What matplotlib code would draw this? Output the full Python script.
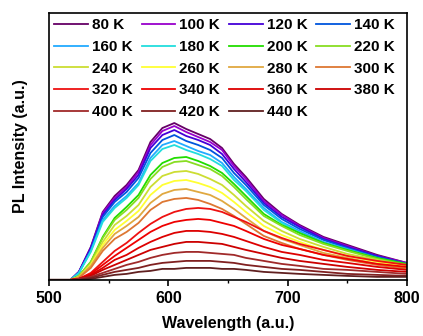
import numpy as np
import matplotlib
matplotlib.use('Agg')
import matplotlib.pyplot as plt

# wavelength grid (nm) and PL intensity (a.u.)
wavelength = [500, 518, 525, 535, 545, 555, 565, 575, 585, 595, 605, 615,
              625, 635, 645, 655, 665, 680, 695, 710, 730, 750, 775, 800]

pl_80 = [0, 0, 8, 33, 68, 84, 95, 110, 138, 152, 157, 151, 146, 141, 132, 116, 103, 81, 66, 55, 43, 35, 25, 17]
pl_100 = [0, 0, 8, 32, 67, 82, 93, 108, 135, 149, 154, 148, 143, 138, 130, 114, 101, 79, 65, 54, 42, 34, 24, 17]
pl_120 = [0, 0, 8, 32, 65, 80, 91, 105, 132, 145, 150, 144, 140, 135, 126, 111, 98, 77, 63, 53, 41, 33, 24, 16]
pl_140 = [0, 0, 7, 30, 63, 78, 88, 102, 127, 140, 145, 139, 135, 130, 122, 107, 95, 75, 61, 51, 40, 32, 23, 16]
pl_160 = [0, 0, 7, 29, 60, 74, 84, 97, 122, 135, 139, 134, 129, 125, 117, 103, 91, 72, 58, 49, 38, 31, 22, 15]
pl_180 = [0, 0, 7, 28, 58, 72, 82, 95, 119, 131, 135, 130, 126, 121, 114, 100, 89, 70, 57, 47, 37, 30, 21, 15]
pl_200 = [0, 0, 4, 18, 43, 62, 73, 85, 105, 117, 122, 123, 119, 114, 107, 96, 84, 66, 55, 47, 37, 30, 22, 16]
pl_220 = [0, 0, 4, 18, 42, 60, 70, 82, 101, 113, 118, 119, 115, 111, 104, 93, 81, 64, 54, 45, 36, 29, 21, 15]
pl_240 = [0, 0, 3, 16, 38, 55, 64, 75, 93, 104, 108, 109, 106, 101, 95, 85, 74, 59, 49, 41, 33, 26, 20, 14]
pl_260 = [0, 0, 3, 15, 35, 50, 59, 69, 85, 95, 99, 100, 97, 93, 87, 78, 68, 54, 45, 38, 30, 24, 18, 13]
pl_280 = [0, 0, 3, 14, 32, 46, 54, 63, 77, 86, 90, 91, 88, 85, 79, 71, 62, 49, 41, 35, 27, 22, 16, 12]
pl_300 = [0, 0, 2, 12, 29, 41, 48, 57, 70, 78, 81, 82, 80, 76, 71, 64, 56, 44, 37, 31, 25, 20, 15, 11]
pl_320 = [0, 0, 1, 7, 18, 29, 37, 47, 56, 63, 68, 71, 72, 71, 68, 63, 58, 49, 42, 36, 30, 24, 19, 15]
pl_340 = [0, 0, 1, 6, 15, 24, 32, 40, 48, 54, 58, 60, 61, 60, 57, 54, 49, 41, 35, 31, 25, 21, 16, 13]
pl_360 = [0, 0, 1, 5, 12, 20, 25, 32, 38, 43, 47, 49, 49, 48, 46, 43, 39, 33, 28, 25, 20, 17, 13, 10]
pl_380 = [0, 0, 1, 4, 10, 15, 20, 25, 30, 33, 36, 38, 38, 37, 36, 33, 30, 26, 22, 19, 16, 13, 10, 8]
pl_400 = [0, 0, 1, 3, 7, 11, 15, 18, 22, 25, 27, 28, 28, 27, 26, 25, 22, 19, 16, 14, 11, 10, 8, 6]
pl_420 = [0, 0, 0, 2, 5, 8, 10, 12, 15, 17, 18, 19, 19, 19, 18, 17, 15, 13, 11, 10, 8, 6, 5, 4]
pl_440 = [0, 0, 0, 1, 3, 5, 6, 8, 9, 11, 11, 12, 12, 12, 11, 11, 10, 8, 7, 6, 5, 4, 3, 3]

temperatures = [80, 100, 120, 140, 160, 180, 200, 220, 240, 260,
                280, 300, 320, 340, 360, 380, 400, 420, 440]
spectra = [pl_80, pl_100, pl_120, pl_140, pl_160, pl_180, pl_200, pl_220, pl_240, pl_260,
           pl_280, pl_300, pl_320, pl_340, pl_360, pl_380, pl_400, pl_420, pl_440]
colors = ['#660066', '#9900cc', '#4400d8', '#0055dd', '#22aaff', '#22dddd', '#22dd00',
          '#88dd22', '#ccdd33', '#ffff33', '#e0a840', '#dd7733', '#ee1111', '#ee0000',
          '#dd0000', '#cc0000', '#a02a2a', '#802020', '#602020']

plt.rcParams['font.family'] = ['Liberation Sans', 'DejaVu Sans']
plt.rcParams['font.weight'] = 'bold'

fig = plt.figure(figsize=(4.23, 3.36), dpi=100)
ax = fig.add_axes([0.116, 0.167, 0.846, 0.794])

lines = []
for t, s, c in zip(temperatures, spectra, colors):
    ln, = ax.plot(wavelength, s, color=c, linewidth=1.3, label=f'{t} K')
    lines.append(ln)

ax.set_xlim(500, 800)
ax.set_ylim(0, 267)
ax.set_xticks([500, 600, 700, 800])
ax.set_xticks([550, 650, 750], minor=True)
ax.set_yticks([])
ax.tick_params(axis='x', which='major', direction='out', length=4, width=1.2,
               labelsize=11.5, pad=4)
ax.tick_params(axis='x', which='minor', direction='out', length=2, width=1.0)
for sp in ax.spines.values():
    sp.set_linewidth(1.2)

ax.set_xlabel('Wavelength (a.u.)', fontsize=11.5, fontweight='bold', labelpad=7)
ax.set_ylabel('PL Intensity (a.u.)', fontsize=11.5, fontweight='bold', labelpad=15)

# legend is filled row by row in the reference
ncol = 4
order = [i for c in range(ncol) for i in range(c, len(lines), ncol)]
ax.legend([lines[i] for i in order], [lines[i].get_label() for i in order],
          ncol=ncol, loc='upper left', frameon=False,
          prop={'weight': 'bold', 'size': 11},
          handlelength=2.2, handletextpad=0.25, columnspacing=0.6,
          labelspacing=0.5, borderpad=0.35, borderaxespad=0)

fig.savefig('out.png', dpi=100)
